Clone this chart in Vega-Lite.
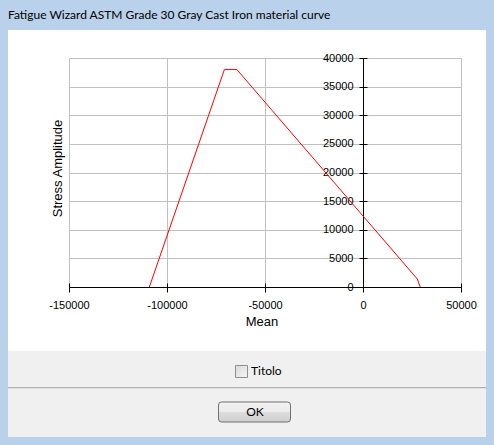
{
  "$schema": "https://vega.github.io/schema/vega-lite/v6.json",
  "background": "white",
  "padding": 0,
  "autosize": {"type": "pad"},
  "bounds": "flush",
  "spacing": 0,
  "columns": 5,
  "data": {"name": "one"},
  "datasets": {
    "curve": [
      {"i": 1, "mean": -109000, "amp": 0},
      {"i": 2, "mean": -70700, "amp": 38000},
      {"i": 3, "mean": -64400, "amp": 38000},
      {"i": 4, "mean": 27700, "amp": 1400},
      {"i": 5, "mean": 29200, "amp": 0}
    ],
    "one": [{"k": 1}],
    "controls": [
      {"row": "Titolo", "label": "Titolo"},
      {"row": "OK", "label": "OK"}
    ]
  },
  "config": {
    "view": {"stroke": null},
    "axis": {
      "labelFont": "Liberation Sans",
      "labelFontSize": 11,
      "labelColor": "#000000",
      "titleFont": "Liberation Sans",
      "titleFontWeight": "normal",
      "titleColor": "#000000",
      "domainColor": "#000000",
      "tickColor": "#000000",
      "gridColor": "#c0c0c0",
      "gridOpacity": 1,
      "labelFlush": false,
      "labelOverlap": false
    }
  },
  "concat": [
    {"width": 8, "height": 30, "view": {"fill": "#b9d1ea"}, "mark": {"type": "point", "opacity": 0}},
    {"width": 61, "height": 30, "view": {"fill": "#b9d1ea"}, "mark": {"type": "point", "opacity": 0}},
    {"width": 392, "height": 30, "view": {"fill": "#b9d1ea"}, "mark": {"type": "point", "opacity": 0}},
    {"width": 25, "height": 30, "view": {"fill": "#b9d1ea"}, "mark": {"type": "point", "opacity": 0}},
    {
      "width": 8, "height": 30, "view": {"fill": "#b9d1ea"}, "mark": {"type": "point", "opacity": 0},
      "title": {
        "text": "Fatigue Wizard ASTM Grade 30 Gray Cast Iron material curve",
        "anchor": "start",
        "frame": "group",
        "orient": "top",
        "offset": -30.5,
        "dx": -478,
        "baseline": "alphabetic",
        "font": "Lato",
        "fontSize": 12,
        "fontWeight": "normal",
        "color": "#000000"
      }
    },

    {"width": 8, "height": 28, "view": {"fill": "#b9d1ea"}, "mark": {"type": "point", "opacity": 0}},
    {"width": 61, "height": 28, "mark": {"type": "point", "opacity": 0}},
    {"width": 392, "height": 28, "mark": {"type": "point", "opacity": 0}},
    {"width": 25, "height": 28, "mark": {"type": "point", "opacity": 0}},
    {"width": 8, "height": 28, "view": {"fill": "#b9d1ea"}, "mark": {"type": "point", "opacity": 0}},

    {"width": 8, "height": 229, "view": {"fill": "#b9d1ea"}, "mark": {"type": "point", "opacity": 0}},
    {"width": 61, "height": 229, "mark": {"type": "point", "opacity": 0}},
    {
      "width": 392,
      "height": 229,
      "data": {"name": "curve"},
      "layer": [
        {
          "mark": {"type": "line", "color": "#ff0000", "strokeWidth": 1},
          "encoding": {
            "x": {
              "field": "mean",
              "type": "quantitative",
              "scale": {"domain": [-150000, 50000], "nice": false, "zero": false},
              "axis": {
                "orient": "bottom",
                "values": [-150000, -100000, -50000, 0, 50000],
                "labelExpr": "datum.value + ''",
                "tickSize": 5,
                "labelPadding": 7,
                "grid": true,
                "title": "Mean",
                "titleFontSize": 13,
                "titleX": 192.5,
                "titleY": 38,
                "titleAlign": "center",
                "titleBaseline": "alphabetic"
              }
            },
            "y": {
              "field": "amp",
              "type": "quantitative",
              "scale": {"domain": [0, 40000], "nice": false, "zero": false},
              "axis": {
                "orient": "left",
                "offset": -294,
                "values": [0, 5000, 10000, 15000, 20000, 25000, 30000, 35000, 40000],
                "labelExpr": "datum.value + ''",
                "tickSize": 4,
                "labelPadding": 6,
                "grid": true,
                "title": "Stress Amplitude",
                "titleFontSize": 13,
                "titleAngle": 270,
                "titleX": -302,
                "titleY": 110,
                "titleAlign": "center",
                "titleBaseline": "alphabetic"
              }
            },
            "order": {"field": "i"}
          }
        },
        {
          "mark": {"type": "point", "opacity": 0},
          "encoding": {
            "x": {
              "field": "mean",
              "type": "quantitative",
              "scale": {"domain": [-150000, 50000], "nice": false, "zero": false},
              "axis": {
                "orient": "top",
                "offset": -229,
                "values": [-150000, -100000, -50000, 0, 50000],
                "tickSize": 4,
                "labels": false,
                "domain": false,
                "grid": false,
                "title": null
              }
            },
            "y": {
              "field": "amp",
              "type": "quantitative",
              "scale": {"domain": [0, 40000], "nice": false, "zero": false},
              "axis": {
                "orient": "right",
                "offset": -98,
                "values": [0, 5000, 10000, 15000, 20000, 25000, 30000, 35000, 40000],
                "tickSize": 4,
                "labels": false,
                "domain": false,
                "grid": false,
                "title": null
              }
            }
          }
        }
      ],
      "resolve": {"axis": {"x": "independent", "y": "independent"}}
    },
    {"width": 25, "height": 229, "mark": {"type": "point", "opacity": 0}},
    {"width": 8, "height": 229, "view": {"fill": "#b9d1ea"}, "mark": {"type": "point", "opacity": 0}},

    {"width": 8, "height": 64, "view": {"fill": "#b9d1ea"}, "mark": {"type": "point", "opacity": 0}},
    {"width": 61, "height": 64, "mark": {"type": "point", "opacity": 0}},
    {"width": 392, "height": 64, "mark": {"type": "point", "opacity": 0}},
    {"width": 25, "height": 64, "mark": {"type": "point", "opacity": 0}},
    {"width": 8, "height": 64, "view": {"fill": "#b9d1ea"}, "mark": {"type": "point", "opacity": 0}},

    {"width": 8, "height": 86, "view": {"fill": "#b9d1ea"}, "mark": {"type": "point", "opacity": 0}},
    {
      "width": 61, "height": 86,
      "view": {"fill": "#f0f0f0"},
      "data": {"name": "controls"},
      "transform": [{"filter": "datum.row === 'Titolo'"}],
      "mark": {"type": "rule", "stroke": "#a0a0a0", "strokeWidth": 1, "yOffset": 16.2},
      "encoding": {
        "y": {"field": "row", "type": "ordinal", "scale": {"type": "point", "domain": ["Titolo", "OK"], "padding": 0.5617, "align": 0.4505}, "axis": null}
      }
    },
    {
      "width": 392,
      "height": 86,
      "view": {"fill": "#f0f0f0"},
      "data": {"name": "controls"},
      "encoding": {
        "y": {
          "field": "row",
          "type": "ordinal",
          "scale": {"type": "point", "domain": ["Titolo", "OK"], "padding": 0.5617, "align": 0.4505},
          "axis": null
        }
      },
      "layer": [
        {
          "transform": [{"filter": "datum.row === 'Titolo'"}],
          "mark": {"type": "rule", "stroke": "#a0a0a0", "strokeWidth": 1, "yOffset": 16.2}
        },
        {
          "transform": [{"filter": "datum.row === 'Titolo'"}],
          "mark": {
            "type": "point",
            "shape": "M-1,-1H1V1H-1Z",
            "size": 144,
            "filled": true,
            "fill": {"gradient": "linear", "x1": 0, "y1": 0, "x2": 1, "y2": 1, "stops": [{"offset": 0, "color": "#d8d8d8"}, {"offset": 1, "color": "#f6f6f6"}]},
            "stroke": "#8e8f8f",
            "strokeWidth": 1,
            "opacity": 1,
            "xOffset": -23.5
          }
        },
        {
          "transform": [{"filter": "datum.row === 'Titolo'"}],
          "mark": {"type": "text", "align": "left", "baseline": "middle", "xOffset": -14, "font": "Lato", "fontSize": 12, "color": "#000000"},
          "encoding": {"text": {"field": "label"}}
        },
        {
          "transform": [{"filter": "datum.row === 'OK'"}],
          "mark": {
            "type": "point",
            "shape": "M-3.3,-1H3.3Q3.6,-1,3.6,-0.7V0.7Q3.6,1,3.3,1H-3.3Q-3.6,1,-3.6,0.7V-0.7Q-3.6,-1,-3.3,-1Z",
            "size": 400,
            "filled": true,
            "fill": {"gradient": "linear", "x1": 0, "y1": 0, "x2": 0, "y2": 1, "stops": [{"offset": 0, "color": "#f2f2f2"}, {"offset": 0.5, "color": "#ebebeb"}, {"offset": 0.5, "color": "#dddddd"}, {"offset": 1, "color": "#cfcfcf"}]},
            "stroke": "#707070",
            "strokeWidth": 1,
            "opacity": 1,
            "xOffset": -10.5
          }
        },
        {
          "transform": [{"filter": "datum.row === 'OK'"}],
          "mark": {"type": "text", "align": "center", "baseline": "middle", "xOffset": -10, "font": "Lato", "fontSize": 12, "color": "#000000"},
          "encoding": {"text": {"field": "label"}}
        }
      ]
    },
    {
      "width": 25, "height": 86,
      "view": {"fill": "#f0f0f0"},
      "data": {"name": "controls"},
      "transform": [{"filter": "datum.row === 'Titolo'"}],
      "mark": {"type": "rule", "stroke": "#a0a0a0", "strokeWidth": 1, "yOffset": 16.2},
      "encoding": {
        "y": {"field": "row", "type": "ordinal", "scale": {"type": "point", "domain": ["Titolo", "OK"], "padding": 0.5617, "align": 0.4505}, "axis": null}
      }
    },
    {"width": 8, "height": 86, "view": {"fill": "#b9d1ea"}, "mark": {"type": "point", "opacity": 0}},

    {"width": 8, "height": 8, "view": {"fill": "#b9d1ea"}, "mark": {"type": "point", "opacity": 0}},
    {"width": 61, "height": 8, "view": {"fill": "#b9d1ea"}, "mark": {"type": "point", "opacity": 0}},
    {"width": 392, "height": 8, "view": {"fill": "#b9d1ea"}, "mark": {"type": "point", "opacity": 0}},
    {"width": 25, "height": 8, "view": {"fill": "#b9d1ea"}, "mark": {"type": "point", "opacity": 0}},
    {"width": 8, "height": 8, "view": {"fill": "#b9d1ea"}, "mark": {"type": "point", "opacity": 0}}
  ]
}
